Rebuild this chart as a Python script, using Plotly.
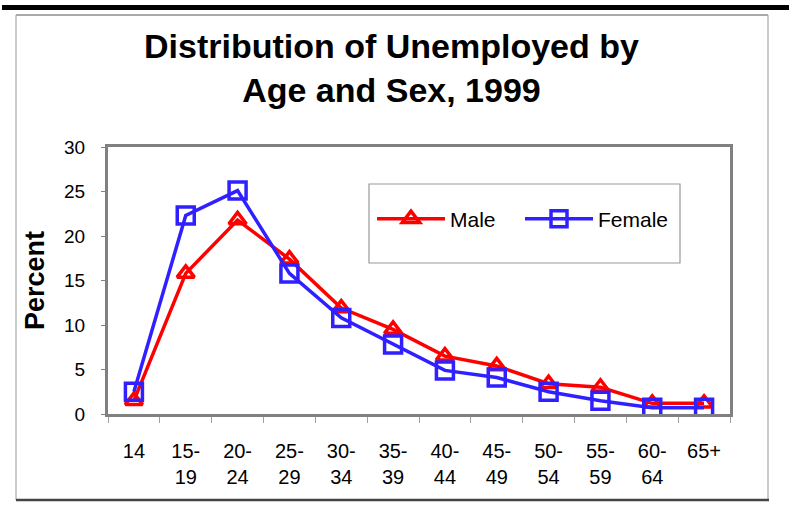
import plotly.graph_objects as go

age_groups = ["14", "15-<br>19", "20-<br>24", "25-<br>29", "30-<br>34", "35-<br>39",
              "40-<br>44", "45-<br>49", "50-<br>54", "55-<br>59", "60-<br>64", "65+"]
male = [1.5, 15.8, 21.8, 17.4, 11.9, 9.5, 6.5, 5.4, 3.4, 3.0, 1.2, 1.2]
female = [2.5, 22.3, 25.1, 15.8, 10.8, 7.8, 4.9, 4.1, 2.5, 1.5, 0.7, 0.7]
y_ticks = [0, 5, 10, 15, 20, 25, 30]

W, H = 789, 508
L, R, T, B = 108, 730, 147, 414

def px(x):
    return (x - L) / (R - L)

def py(y):
    return (B - y) / (B - T)

FONT = "Liberation Sans, Arial, sans-serif"
RED = "#FF0000"
BLUE = "#3020FF"

fig = go.Figure()
fig.add_trace(go.Scatter(
    x=age_groups, y=male, name="Male", mode="lines+markers", legend="legend",
    line=dict(color=RED, width=3.5),
    marker=dict(symbol="triangle-up-open", size=15, color=RED, line=dict(width=3.5, color=RED)),
))
fig.add_trace(go.Scatter(
    x=age_groups, y=female, name="Female", mode="lines+markers", legend="legend2",
    line=dict(color=BLUE, width=3.5),
    marker=dict(symbol="square-open", size=17, color=BLUE, line=dict(width=3.5, color=BLUE)),
))

shapes = [
    # black bar at top
    dict(type="rect", xref="paper", yref="paper", x0=px(2), x1=px(789), y0=py(10), y1=py(5),
         fillcolor="black", line=dict(width=0), layer="below"),
    # outer box
    dict(type="line", xref="paper", yref="paper", x0=px(16), x1=px(768), y0=py(15), y1=py(15),
         line=dict(color="#555555", width=1)),
    dict(type="line", xref="paper", yref="paper", x0=px(16), x1=px(16), y0=py(15), y1=py(500),
         line=dict(color="#999999", width=1)),
    dict(type="line", xref="paper", yref="paper", x0=px(768), x1=px(768), y0=py(15), y1=py(500),
         line=dict(color="#999999", width=1)),
    dict(type="line", xref="paper", yref="paper", x0=px(16), x1=px(769), y0=py(500), y1=py(500),
         line=dict(color="#444444", width=2.5)),
    # legend box
    dict(type="rect", xref="paper", yref="paper", x0=px(369), x1=px(680), y0=py(263), y1=py(184),
         fillcolor="white", line=dict(color="#999999", width=1.2), layer="below"),
]

leg_common = dict(
    orientation="h", xanchor="left", yanchor="middle", y=py(219),
    bgcolor="rgba(0,0,0,0)", borderwidth=0,
    font=dict(family=FONT, size=21, color="black"), itemwidth=68,
)

fig.update_layout(
    width=W, height=H,
    margin=dict(l=L, r=W - R, t=T, b=H - B, pad=0),
    paper_bgcolor="white", plot_bgcolor="white",
    font=dict(family=FONT, color="black"),
    showlegend=True,
    legend=dict(x=px(372), **leg_common),
    legend2=dict(x=px(520), **leg_common),
    shapes=shapes,
    annotations=[
        dict(text="<b>Distribution of Unemployed by<br>Age and Sex, 1999</b>",
             xref="paper", yref="paper", x=px(391), y=py(68), xanchor="center", yanchor="middle",
             showarrow=False, font=dict(family=FONT, size=34, color="black")),
    ],
)

fig.update_xaxes(
    type="category", tickmode="array", tickvals=age_groups, ticktext=age_groups,
    range=[-0.5, len(age_groups) - 0.5], autorange=False,
    showgrid=False, showline=True, linecolor="#808080", linewidth=3, mirror=True,
    ticks="outside", tickson="boundaries", ticklen=6, tickcolor="#A0A0A0", tickwidth=1,
    tickfont=dict(family=FONT, size=20, color="black"), ticklabelstandoff=17,
    zeroline=False,
)
fig.update_yaxes(
    range=[0, 30], tickmode="array", tickvals=y_ticks, ticktext=[str(v) for v in y_ticks],
    showgrid=False, showline=True, linecolor="#808080", linewidth=3, mirror=True,
    ticks="outside", ticklen=4, tickcolor="#808080", tickwidth=1,
    tickfont=dict(family=FONT, size=19, color="black"), ticklabelstandoff=12,
    title=dict(text="<b>Percent</b>", font=dict(family=FONT, size=27, color="black"), standoff=12),
    zeroline=False,
)

fig.write_html("out.html", config={"displayModeBar": False},
               post_script="document.body.style.margin='0';")
